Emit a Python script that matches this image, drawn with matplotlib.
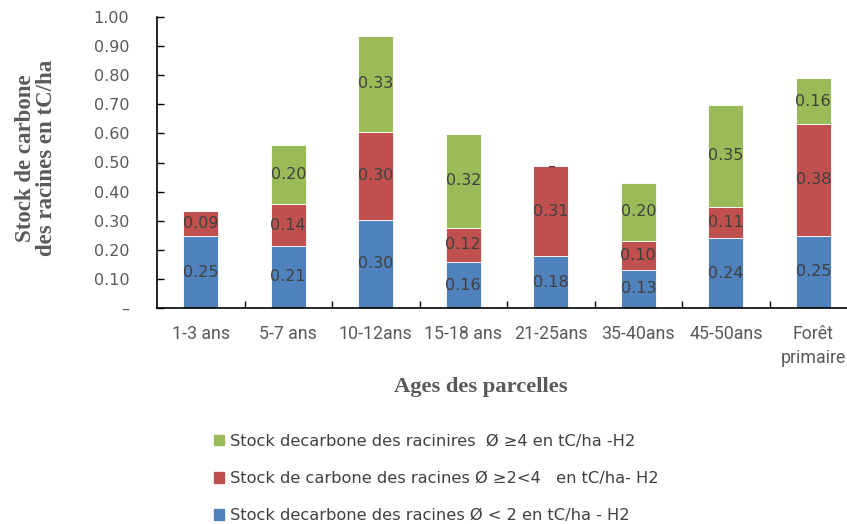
import matplotlib
matplotlib.use("Agg")
import matplotlib.pyplot as plt
import numpy as np
from matplotlib.patches import Patch

categories = ["1-3 ans", "5-7 ans", "10-12ans", "15-18 ans", "21-25ans", "35-40ans", "45-50ans", "Forêt\nprimaire"]
blue_vals = [0.246, 0.214, 0.304, 0.158, 0.178, 0.132, 0.239, 0.248]
red_vals = [0.089, 0.142, 0.301, 0.117, 0.309, 0.098, 0.108, 0.384]
green_vals = [np.nan, 0.203, 0.330, 0.323, 0.000, 0.201, 0.352, 0.157]
yticks = [0.0, 0.1, 0.2, 0.3, 0.4, 0.5, 0.6, 0.7, 0.8, 0.9, 1.0]

leg_green = "Stock decarbone des racinires  Ø ≥4 en tC/ha -H2"
leg_red = "Stock de carbone des racines Ø ≥2<4   en tC/ha- H2"
leg_blue = "Stock decarbone des racines Ø < 2 en tC/ha - H2"

c_blue = "#4F81BD"
c_red = "#C0504D"
c_green = "#9BBB59"
txt = "#404040"
tick_c = "#595959"
sans = ["DejaVu Sans"]

fig = plt.figure(figsize=(8.47, 5.24), dpi=100)
W, H = 847, 524
left, right, top, bottom = 157, 857, 17, 308
ax = fig.add_axes([left / W, 1 - bottom / H, (right - left) / W, (bottom - top) / H])

x = np.arange(len(categories))
b = np.array(blue_vals)
r = np.array(red_vals)
g = np.array(green_vals)
bw = 0.4
cb = ax.bar(x, b, bw, color=c_blue, edgecolor="white", linewidth=0.6)
cr = ax.bar(x, r, bw, bottom=b, color=c_red, edgecolor="white", linewidth=0.6)
cg = ax.bar(x, np.nan_to_num(g), bw, bottom=b + r, color=c_green, edgecolor="white", linewidth=0.6)

def fmt(v):
    if np.isnan(v):
        return ""
    if v == 0:
        return "–"
    return f"{v:.2f}"

for cont, vals in ((cb, b), (cr, r), (cg, g)):
    ax.bar_label(cont, labels=[fmt(v) for v in vals], label_type="center",
                 color=txt, fontsize=11.5, family=sans)

ax.set_xlim(-0.5, len(categories) - 0.5)
ax.set_ylim(0, 1.0)
ax.set_yticks(yticks)
ax.set_yticklabels(["–" if v == 0 else f"{v:.2f}" for v in yticks],
                   color=tick_c, fontsize=11.5, family=sans)
ax.tick_params(axis="y", direction="in", length=5, width=1, pad=20)

ax.set_xticks(x + 0.5, minor=False)
ax.set_xticklabels([])
ax.tick_params(axis="x", which="major", direction="in", length=5, width=1)
ax.set_xticks(x, minor=True)
ax.set_xticklabels(categories, minor=True, color=tick_c, fontsize=12.8,
                   family=["Roboto", "DejaVu Sans"], linespacing=1.45)
ax.tick_params(axis="x", which="minor", length=0, pad=12)

for s in ("top", "right"):
    ax.spines[s].set_visible(False)
for s in ("left", "bottom"):
    ax.spines[s].set_color("black")
    ax.spines[s].set_linewidth(1.2)

fig.text(36 / W, 1 - 158 / H, "Stock de carbone\ndes racines en tC/ha", rotation=90,
         ha="center", va="center", family="Liberation Serif", fontweight="bold",
         fontsize=16.5, color=tick_c, linespacing=1.05)
fig.text(481 / W, 1 - 387 / H, "Ages des parcelles", ha="center", va="center",
         family="Liberation Serif", fontweight="bold", fontsize=16.2, color=tick_c)

handles = [Patch(color=c_green), Patch(color=c_red), Patch(color=c_blue)]
fig.legend(handles, [leg_green, leg_red, leg_blue], loc="upper left",
           bbox_to_anchor=(199 / W, 1 - 419 / H), frameon=False,
           handlelength=0.62, handleheight=0.62, handletextpad=0.4,
           labelspacing=1.38, prop={"family": sans, "size": 11.7}, labelcolor=txt)

fig.savefig("out.png", dpi=100)
